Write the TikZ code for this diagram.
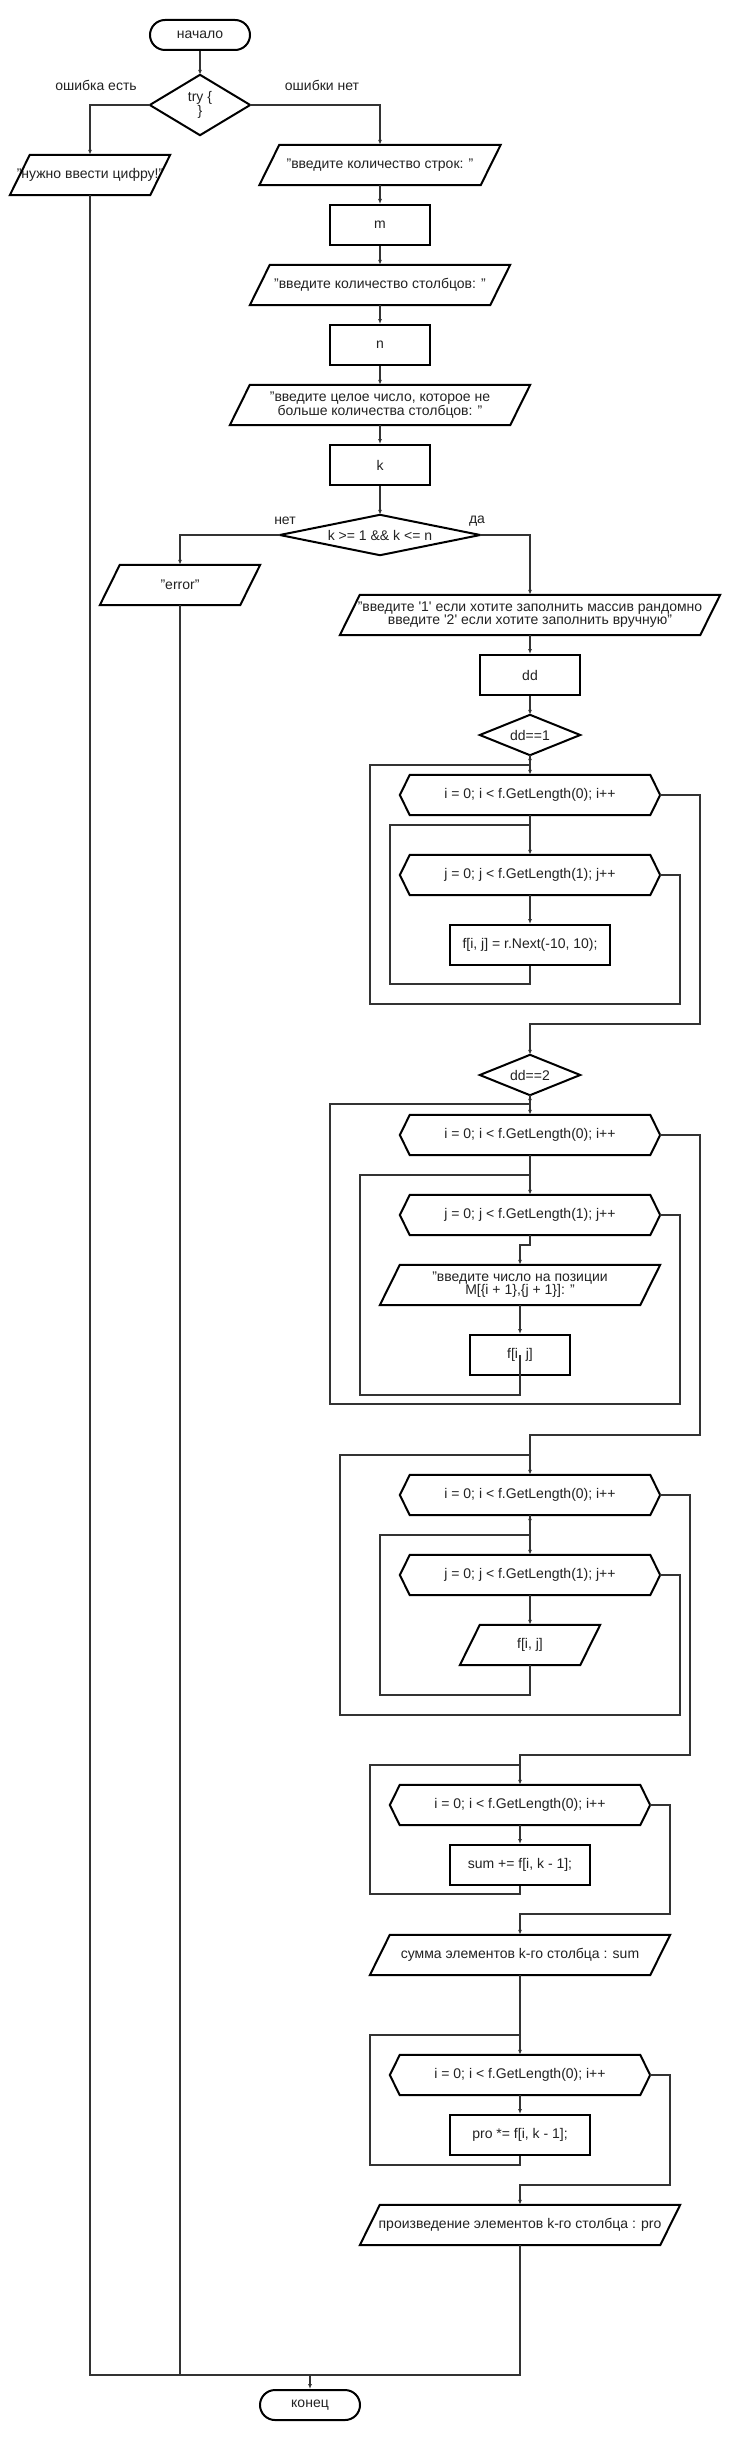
\documentclass[tikz,border=0pt]{standalone}
\usepackage{fontspec}
\setmainfont{Liberation Sans}
\usetikzlibrary{arrows.meta}
\definecolor{linegray}{HTML}{333333}
\definecolor{txtgray}{HTML}{222222}
\newcommand{\IOshape}[1]{\draw[shp] ([xshift=20pt]#1.north west) -- (#1.north east) -- ([xshift=-20pt]#1.south east) -- (#1.south west) -- cycle;}
\newcommand{\HEXshape}[1]{\draw[shp] ([xshift=10pt]#1.north west) -- ([xshift=-10pt]#1.north east) -- (#1.east) -- ([xshift=-10pt]#1.south east) -- ([xshift=10pt]#1.south west) -- (#1.west) -- cycle;}
\newcommand{\DIAshape}[1]{\draw[shp] (#1.north) -- (#1.east) -- (#1.south) -- (#1.west) -- cycle;}
\begin{document}
\begin{tikzpicture}[x=1pt,y=-1pt,
  every node/.style={font=\fontsize{14}{13}\selectfont, text=txtgray},
  shp/.style={draw=black, line width=2pt, line join=miter},
  plain/.style={minimum width=#1, minimum height=40pt, inner sep=0pt, align=center},
  plain/.default=100pt,
  box/.style={plain=#1, draw=black, line width=2pt},
  box/.default=100pt,
  term/.style={draw=black, line width=2pt, rounded corners=15pt, minimum width=100pt, minimum height=30pt, inner sep=0pt},
  lin/.style={draw=linegray, line width=1.5pt},
  conn/.style={lin, -{Latex[length=5pt,width=4pt]}},
  lbl/.style={inner sep=1pt}
]
\fill[white] (0,0) rectangle (730,2440);
\useasboundingbox (0,0) rectangle (730,2440);

% ---------- top part ----------
\node[term] (start) at (200,35) {начало};
\node[plain=100pt, minimum height=60pt] (try) at (200,105) {try \{\\\}};
\DIAshape{try}
\node[lbl] (lerr) at (96,85) {ошибка есть};
\node[lbl] (lok) at (322,85) {ошибки нет};
\node[plain=160pt] (pnum) at (90,175) {"нужно ввести цифру!"};
\IOshape{pnum}
\node[plain=241pt] (prows) at (380,165) {"введите количество строк: "};
\IOshape{prows}
\node[box] (m) at (380,225) {m};
\node[plain=260pt] (pcols) at (380,285) {"введите количество столбцов: "};
\IOshape{pcols}
\node[box] (n) at (380,345) {n};
\node[plain=300pt] (pk) at (380,405) {"введите целое число, которое не\\больше количества столбцов: "};
\IOshape{pk}
\node[box] (k) at (380,465) {k};
\node[plain=200pt] (cond) at (380,535) {k >= 1 \&\& k <= n};
\DIAshape{cond}
\node[lbl] (lno) at (285,521) {нет};
\node[lbl] (lyes) at (477,521) {да};
\node[plain=160pt] (err) at (180,585) {"error"};
\IOshape{err}
\node[plain=380pt] (pmode) at (530,615) {"введите \textquotesingle 1\textquotesingle{} если хотите заполнить массив рандомно\\введите \textquotesingle 2\textquotesingle{} если хотите заполнить вручную"};
\IOshape{pmode}
\node[box] (dd) at (530,675) {dd};
\node[plain=100pt] (dd1) at (530,735) {dd==1};
\DIAshape{dd1}

\draw[conn] (start.south) -- (try.north);
\draw[conn] (try.west) -| (pnum.north);
\draw[conn] (try.east) -| (prows.north);
\draw[conn] (prows.south) -- (m.north);
\draw[conn] (m.south) -- (pcols.north);
\draw[conn] (pcols.south) -- (n.north);
\draw[conn] (n.south) -- (pk.north);
\draw[conn] (pk.south) -- (k.north);
\draw[conn] (k.south) -- (cond.north);
\draw[conn] (cond.west) -| (err.north);
\draw[conn] (cond.east) -| (pmode.north);
\draw[conn] (pmode.south) -- (dd.north);
\draw[conn] (dd.south) -- (dd1.north);

% ---------- loop A ----------
\node[plain=260pt] (a1) at (530,795) {i = 0; i < f.GetLength(0); i++};
\HEXshape{a1}
\node[plain=260pt] (a2) at (530,875) {j = 0; j < f.GetLength(1); j++};
\HEXshape{a2}
\node[box=160pt] (a3) at (530,945) {f[i, j] = r.Next(-10, 10);};
\node[plain=100pt] (dd2) at (530,1075) {dd==2};
\DIAshape{dd2}
\coordinate (ja) at (530,825);

\draw[conn] (dd1.south) -- (a1.north);
\draw[conn] (a1.south) -- (a2.north);
\draw[conn] (a2.south) -- (a3.north);
\draw[lin] (a3.south) |- (390,984) |- (ja);
\draw[conn] (a2.east) -| (680,1004) -| (370,765) -| (dd1.south);
\draw[conn] (a1.east) -| (700,1024) -| (dd2.north);

% ---------- loop B ----------
\node[plain=260pt] (b1) at (530,1135) {i = 0; i < f.GetLength(0); i++};
\HEXshape{b1}
\node[plain=260pt] (b2) at (530,1215) {j = 0; j < f.GetLength(1); j++};
\HEXshape{b2}
\node[plain=280pt] (pB) at (520,1285) {"введите число на позиции\\M[\{i + 1\},\{j + 1\}]: "};
\IOshape{pB}
\node[box=100pt] (bB) at (520,1355) {f[i, j]};
\coordinate (jb) at (530,1175);

\draw[conn] (dd2.south) -- (b1.north);
\draw[conn] (b1.south) -- (b2.north);
\draw[conn] (b2.south) -- ++(0,10) -| (pB.north);
\draw[conn] (pB.south) -- (bB.north);
\draw[lin] (bB.center) |- (360,1395) |- (jb);
\draw[conn] (b2.east) -| (680,1404) -| (330,1104) -| (dd2.south);

% ---------- loop C ----------
\node[plain=260pt] (c1) at (530,1495) {i = 0; i < f.GetLength(0); i++};
\HEXshape{c1}
\node[plain=260pt] (c2) at (530,1575) {j = 0; j < f.GetLength(1); j++};
\HEXshape{c2}
\node[plain=140pt] (pC) at (530,1645) {f[i, j]};
\IOshape{pC}
\coordinate (jc1) at (530,1455);
\coordinate (jc2) at (530,1535);

\draw[conn] (b1.east) -| (700,1435) -| (c1.north);
\draw[conn] (c1.south) -- (c2.north);
\draw[conn] (c2.south) -- (pC.north);
\draw[conn] (pC.south) |- (380,1695) |- (jc2) -- (c1.south);
\draw[lin] (c2.east) -| (680,1715) -| (340,1455) -- (jc1);

% ---------- loop D (sum) ----------
\node[plain=260pt] (d1) at (520,1805) {i = 0; i < f.GetLength(0); i++};
\HEXshape{d1}
\node[box=140pt] (dB) at (520,1865) {sum += f[i, k - 1];};
\node[plain=300pt] (pS) at (520,1955) {сумма элементов k-го столбца : sum};
\IOshape{pS}
\coordinate (jd) at (520,1765);

\draw[conn] (c1.east) -| (690,1755) -| (d1.north);
\draw[conn] (d1.south) -- (dB.north);
\draw[lin] (dB.south) |- (370,1894) |- (jd);
\draw[conn] (d1.east) -| (670,1914) -| (pS.north);

% ---------- loop E (pro) ----------
\node[plain=260pt] (e1) at (520,2075) {i = 0; i < f.GetLength(0); i++};
\HEXshape{e1}
\node[box=140pt] (eB) at (520,2135) {pro *= f[i, k - 1];};
\node[plain=320pt] (pP) at (520,2225) {произведение элементов k-го столбца : pro};
\IOshape{pP}
\coordinate (je) at (520,2035);

\draw[conn] (pS.south) -- (e1.north);
\draw[conn] (e1.south) -- (eB.north);
\draw[lin] (eB.south) |- (370,2165) |- (je);
\draw[conn] (e1.east) -| (670,2185) -| (pP.north);

% ---------- end ----------
\node[term] (end) at (310,2405) {конец};
\coordinate (jend) at (310,2375);
\draw[lin] (pnum.south) |- (jend);
\draw[lin] (err.south) |- (jend);
\draw[lin] (pP.south) |- (jend);
\draw[conn] (jend) -- (end.north);
\end{tikzpicture}
\end{document}
